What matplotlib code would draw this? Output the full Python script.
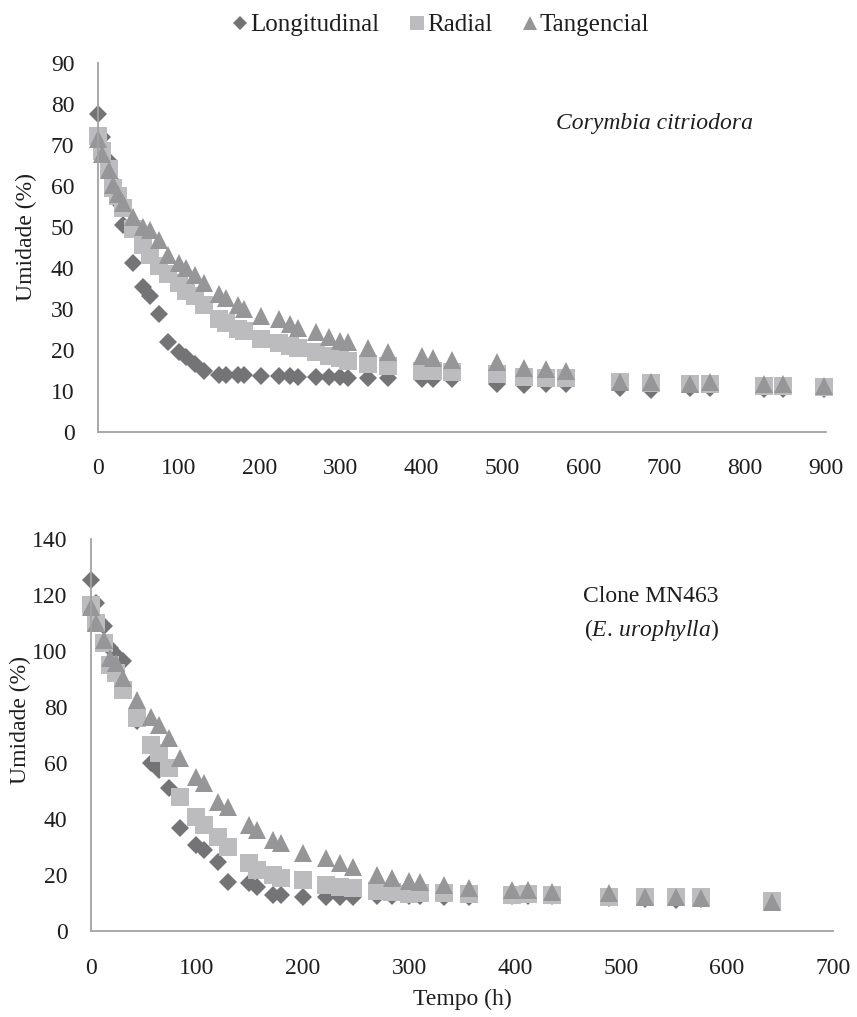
"""Drying curves - moisture content vs time, two wood species
"""
import matplotlib
matplotlib.use("Agg")
import matplotlib.pyplot as plt
from matplotlib.lines import Line2D


# Corymbia citriodora
hours_cc = [0, 5, 13, 19, 25, 31, 43, 56, 64, 75, 86, 100, 109, 120, 131,
            150, 158, 173, 181, 202, 224, 237, 247, 270, 286, 299, 309, 334,
            358, 400, 414, 437, 493, 526, 554, 579, 645, 683, 732, 757, 823,
            847, 898]
long_cc = [77.6, 72.0, 66.0, 61.0, 56.0, 50.5, 41.2, 35.3, 33.0, 28.6, 21.8,
           19.3, 18.2, 16.5, 14.8, 13.8, 13.8, 13.7, 13.7, 13.6, 13.5, 13.5,
           13.4, 13.3, 13.2, 13.2, 13.1, 13.1, 13.0, 12.9, 12.9, 12.8, 11.6,
           11.3, 11.6, 11.6, 10.7, 10.2, 10.7, 10.7, 10.3, 10.3, 10.3]
rad_cc = [72.3, 68.5, 64.2, 59.6, 57.6, 54.5, 49.5, 45.6, 43.0, 40.5, 38.5,
          36.3, 34.3, 33.0, 31.0, 27.5, 26.5, 25.0, 24.5, 22.5, 21.5, 21.0,
          20.5, 19.5, 18.5, 18.0, 17.3, 16.5, 15.9, 14.9, 14.8, 14.5, 14.1,
          13.2, 13.0, 13.0, 12.0, 11.9, 11.5, 11.5, 11.1, 11.0, 10.8]
tang_cc = [71.5, 67.9, 63.8, 60.2, 58.1, 55.7, 52.5, 50.0, 49.2, 46.8, 43.2,
           41.2, 40.0, 38.3, 36.3, 33.5, 32.5, 31.0, 30.0, 28.2, 27.4, 26.2,
           25.4, 24.2, 23.0, 22.2, 21.8, 20.3, 19.4, 18.4, 18.0, 17.4, 17.0,
           15.6, 15.2, 14.8, 12.1, 12.0, 11.7, 12.2, 11.5, 11.5, 11.1]

# Clone MN463 (E. urophylla)
hours_mn = [0, 5, 12, 18, 24, 30, 43, 57, 64, 74, 84, 99, 107, 120, 129, 149,
            157, 172, 179, 200, 222, 235, 247, 270, 284, 300, 310, 333, 357,
            397, 412, 435, 489, 523, 552, 575, 642]
long_mn = [125.3, 117.0, 109.0, 101.0, 98.5, 96.5, 75.0, 60.0, 57.5, 51.0,
           37.0, 30.8, 29.0, 24.9, 17.7, 17.2, 16.0, 13.0, 13.0, 12.4, 12.4,
           12.2, 12.2, 12.7, 12.7, 12.7, 12.7, 12.4, 12.4, 12.7, 12.7, 12.7,
           11.8, 11.4, 11.2, 11.4, 10.5]
rad_mn = [116.4, 109.8, 103.0, 95.0, 92.0, 86.0, 76.0, 66.5, 63.5, 58.2, 48.0,
          40.9, 38.0, 33.8, 30.2, 24.3, 21.9, 20.1, 19.0, 18.4, 16.6, 16.0,
          15.4, 14.5, 14.1, 13.4, 13.6, 13.6, 13.4, 13.0, 13.4, 13.0, 12.4,
          12.2, 12.2, 12.2, 10.9]
tang_mn = [115.8, 109.8, 103.9, 97.4, 95.6, 90.2, 82.5, 76.6, 73.6, 68.9,
           61.7, 55.2, 52.8, 46.3, 44.5, 38.0, 36.2, 32.6, 31.4, 27.9, 26.1,
           24.3, 23.1, 20.1, 19.0, 18.0, 17.7, 16.6, 15.4, 14.8, 14.8, 14.2,
           13.6, 12.4, 12.2, 11.8, 10.6]

series_names = ["Longitudinal", "Radial", "Tangencial"]

_STYLE = [
    dict(marker="D", ms=9.2, color="#747477"),
    dict(marker="s", ms=13.5, color="#bcbcbf"),
    dict(marker="^", ms=13.5, color="#969698"),
]
_TXT = "#1e1e1e"
_AXIS = "#a3a3a3"

plt.rcParams["font.family"] = ["Liberation Serif", "DejaVu Serif"]
plt.rcParams["mathtext.fontset"] = "custom"
plt.rcParams["mathtext.rm"] = "Liberation Serif"
plt.rcParams["mathtext.it"] = "Liberation Serif:italic"


def _draw_panel(ax, hours, values, xmax, ymax, ystep):
    for vals, st in zip(values, _STYLE):
        ax.plot(hours, vals, linestyle="none", marker=st["marker"],
                markersize=st["ms"], color=st["color"], markeredgewidth=0,
                clip_on=False)
    ax.set_xlim(0, xmax)
    ax.set_ylim(0, ymax)
    ax.set_xticks(range(0, xmax + 1, 100))
    ax.set_yticks(range(0, ymax + 1, ystep))
    for side in ("top", "right"):
        ax.spines[side].set_visible(False)
    for side in ("left", "bottom"):
        ax.spines[side].set_color(_AXIS)
        ax.spines[side].set_linewidth(1.3)
    ax.tick_params(axis="x", length=0, pad=19, labelsize=17, labelcolor=_TXT)
    ax.tick_params(axis="y", length=0, pad=17, labelsize=17, labelcolor=_TXT)


fig = plt.figure(figsize=(8.57, 10.17), dpi=100)
ax1 = fig.add_axes([0.1144, 0.5757, 0.8495, 0.3623])
ax2 = fig.add_axes([0.1062, 0.0841, 0.8658, 0.3862])

_draw_panel(ax1, hours_cc, [long_cc, rad_cc, tang_cc], 900, 90, 10)
_draw_panel(ax2, hours_mn, [long_mn, rad_mn, tang_mn], 700, 140, 20)

ax1.text(0.765, 0.837, "Corymbia citriodora", transform=ax1.transAxes,
         fontsize=17, style="italic", ha="center", va="center", color=_TXT)
ax2.text(0.755, 0.852, "Clone MN463", transform=ax2.transAxes,
         fontsize=17, ha="center", va="center", color=_TXT)
ax2.text(0.755, 0.768, r"($\mathit{E.\,urophylla}$)", transform=ax2.transAxes,
         fontsize=17, ha="center", va="center", color=_TXT)

fig.text(26.7 / 857, 1 - 237 / 1017, "Umidade (%)", rotation=90,
         ha="center", va="center", fontsize=17, color=_TXT)
fig.text(20 / 857, 1 - 720 / 1017, "Umidade (%)", rotation=90,
         ha="center", va="center", fontsize=17, color=_TXT)
fig.text(462 / 857, 1 - 999 / 1017, "Tempo (h)",
         ha="center", va="center", fontsize=17, color=_TXT)

handles = [Line2D([], [], linestyle="none", marker=st["marker"],
                  markersize=st["ms"] * 0.72, color=st["color"],
                  markeredgewidth=0) for st in _STYLE]
fig.legend(handles, series_names, loc="center", ncol=3,
           bbox_to_anchor=(441 / 857, 1 - 25 / 1017), frameon=False,
           fontsize=18, handlelength=0.6, handletextpad=0.1,
           columnspacing=1.2, labelcolor=_TXT)

fig.savefig("out.png", dpi=100)
